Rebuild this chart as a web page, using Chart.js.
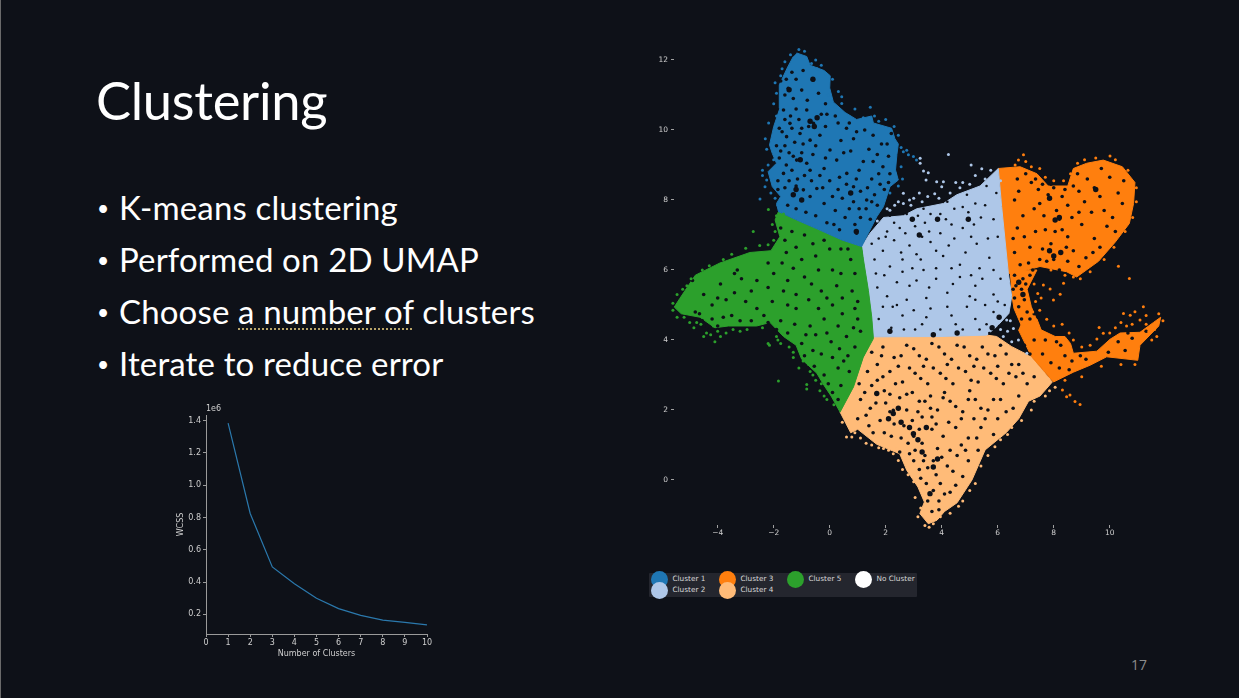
<!DOCTYPE html>
<html>
<head>
<meta charset="utf-8">
<title>Clustering</title>
<script src="https://cdn.jsdelivr.net/npm/chart.js@4"></script>
<style>
  html, body { margin: 0; background: #0e1118; }
  #slide { position: relative; width: 1239px; height: 698px; overflow: hidden; background: #0e1118; }
  #edge { position: absolute; left: 0; top: 0; width: 1px; height: 698px; background: #6a6a6a; }
  canvas { position: absolute; }
  .txt { position: absolute; color: #fff; font-family: Lato, sans-serif; white-space: nowrap; line-height: 1; }
  #title { left: 96px; top: 74px; font-size: 52.5px; font-weight: 400; letter-spacing: -0.3px; }
  .bullet { font-size: 33px; letter-spacing: 0.15px; }
  .mark { font-size: 21px; }
  .spell { text-decoration: underline dotted #b8a468 1.5px; text-underline-offset: 4px; }
  #pageNo { left: 1131px; top: 658px; font-size: 14px; color: #8c8c8c; font-family: "Open Sans", sans-serif; }
  #legendBox { position: absolute; left: 649px; top: 573px; width: 268px; height: 24px; background: #24262e; border-radius: 1px; }
  .lgDot { position: absolute; width: 17px; height: 17px; border-radius: 50%; }
  .lgText { position: absolute; color: #d8d8d8; font: 7.3px "DejaVu Sans", sans-serif; white-space: nowrap; line-height: 1; }
</style>
</head>
<body>
<div id="slide">
  <div id="edge"></div>
  <div id="title" class="txt">Clustering</div>
  <canvas id="elbow"></canvas>
  <canvas id="umap"></canvas>
  <div id="legendBox"></div>
  <div id="legend"></div>
  <div id="pageNo" class="txt">17</div>
</div>
<script>
// slide text
const bulletLines = ["K-means clustering", "Performed on 2D UMAP", 'Choose <span class="spell">a number of</span> clusters', "Iterate to reduce error"];

// elbow curve
const clusterCounts = [1, 2, 3, 4, 5, 6, 7, 8, 9, 10];
const wcss = [1384000, 825000, 494000, 390000, 300000, 235000, 193000, 164000, 150000, 135000];
const wcssTicks = [200000, 400000, 600000, 800000, 1000000, 1200000, 1400000];

// legend
const legendNames = ["Cluster 1", "Cluster 2", "Cluster 3", "Cluster 4", "Cluster 5", "No Cluster"];
const legendColors = ["#1f77b4", "#aec7e8", "#ff7f0e", "#ffbb78", "#2ca02c", "#ffffff"];

// UMAP ticks
const umapXTicks = [-4, -2, 0, 2, 4, 6, 8, 10];
const umapYTicks = [0, 2, 4, 6, 8, 10, 12];

// The dense clouds can't be read point by point, so each cluster is its outline
// plus stray dots outside it and the gaps seen inside it.
const blueOutline = [[-1.18,12.2],[-0.82,12.1],[-0.7,11.85],[-0.2,11.7],[0.02,11.55],[0.0,11.2],[0.13,10.8],[0.55,10.5],[0.96,10.3],[1.5,10.4],[1.56,10.2],[2.21,10.05],[2.33,9.75],[2.45,9.6],[2.4,9.3],[2.35,8.86],[2.45,8.57],[2.15,8.38],[1.92,7.81],[1.68,7.52],[1.38,7.05],[1.14,6.67],[0.43,6.86],[-0.35,7.14],[-1.18,7.43],[-1.83,7.67],[-1.9,7.9],[-1.75,8.1],[-2.05,8.38],[-2.2,8.81],[-1.9,9.05],[-2.05,9.33],[-2.15,9.57],[-2.0,10.1],[-1.78,10.62],[-1.8,11.29],[-1.5,11.8],[-1.3,12.1]];
const greenOutline = [[-1.83,7.67],[-1.95,7.43],[-1.78,6.95],[-2.1,6.55],[-2.85,6.5],[-3.92,6.2],[-4.8,5.85],[-5.35,5.19],[-5.55,4.94],[-5.3,4.75],[-4.63,4.65],[-4.1,4.35],[-3.62,4.4],[-2.61,4.4],[-2.13,4.5],[-1.65,4.1],[-1.2,3.85],[-1.0,3.45],[-0.46,3.05],[-0.2,2.7],[0.05,2.4],[0.37,1.94],[0.85,2.66],[1.2,3.51],[1.56,4.04],[1.5,4.66],[1.38,5.42],[1.2,6.32],[1.14,6.67],[0.43,6.86],[-0.35,7.14],[-1.18,7.43]];
const lightBlueOutline = [[1.14,6.67],[1.44,7.05],[1.92,7.5],[2.63,7.55],[3.11,7.75],[4.06,7.9],[4.54,8.15],[5.37,8.4],[6.02,8.9],[6.14,7.81],[6.26,6.86],[6.38,5.9],[6.5,5.24],[6.4,4.76],[5.96,4.38],[5.61,4.14],[3.94,4.1],[1.56,4.09],[1.5,4.66],[1.38,5.42],[1.2,6.32]];
const orangeTopOutline = [[6.02,8.9],[6.8,8.95],[7.4,8.75],[7.8,8.4],[8.5,8.4],[8.7,8.9],[9.18,9.05],[9.77,9.14],[10.45,8.95],[10.9,8.5],[10.85,7.9],[10.7,7.33],[10.2,6.8],[9.6,6.25],[8.82,5.8],[8.46,5.95],[7.51,6.1],[6.8,5.95],[6.38,5.9],[6.26,6.86],[6.14,7.81]];
const orangeMidOutline = [[6.42,5.98],[7.4,6.0],[7.05,5.45],[7.2,4.95],[7.4,4.55],[6.85,4.4],[6.58,4.9],[6.5,5.3]];
const orangeArmOutline = [[6.9,4.6],[7.4,4.6],[7.55,4.29],[8.05,4.1],[8.4,4.1],[8.6,3.9],[8.7,3.62],[9.54,3.68],[10.01,4.02],[10.37,4.2],[11.08,4.22],[11.56,4.5],[11.82,4.65],[11.75,4.4],[11.08,3.85],[11.0,3.42],[9.89,3.52],[9.3,3.28],[8.7,3.08],[7.99,2.8],[7.21,3.52],[6.74,4.29]];
const peachOutline = [[1.56,4.09],[3.94,4.1],[5.61,4.14],[5.96,4.1],[6.5,3.81],[7.21,3.52],[7.95,2.8],[7.51,2.4],[7.1,2.25],[6.75,1.75],[6.3,1.35],[5.55,0.86],[5.08,0],[4.55,-0.65],[4.1,-0.9],[3.83,-1.15],[3.52,-1.25],[3.22,-0.96],[3.38,-0.63],[3.15,-0.2],[2.75,0.28],[2.5,0.75],[1.68,1.02],[1.0,1.45],[0.75,1.35],[0.37,1.94],[0.85,2.66],[1.2,3.51]];

const blueDots = [[-2.49,8.03],[0.31,11.1],[0.43,10.95],[0.43,10.76],[0.9,10.6],[1.45,10.65],[2.0,10.3],[2.63,9.38],[2.81,9.29],[2.99,9.24],[3.1,9.14],[2.75,9.42],[-2.25,8.57],[-2.31,8.38],[-2.4,8.7],[-2.1,8.2],[-2.3,9.75],[-2.18,10.2],[-2.0,10.75],[-1.95,11.35],[-1.7,11.75],[-0.3,11.85],[-0.5,12.0],[-1.1,12.3],[-0.9,12.25],[2.55,8.95],[2.6,8.6],[2.45,8.4],[2.15,8.2],
  [-1.4,12.15],[-1.6,11.95],[-0.15,11.6],[0.1,11.45],[-0.05,11.0],[0.2,10.65],[0.7,10.38],[1.2,10.35],[1.6,10.4],[1.75,10.25],[2.3,10.1],[2.45,9.85],[2.55,9.5],[2.25,9.05],[2.35,8.75],[1.95,8.1],[1.75,7.7],[-2.25,9.45],[-2.2,9.0],[-2.0,9.15],[-2.4,8.85],[-2.0,8.6],[-1.95,8.05],[-1.85,7.85],[-1.9,10.4],[-1.9,11.05],[-1.75,11.55],[-0.65,11.9],[-0.45,11.75]];
const greenDots = [[-4.1,3.95],[-4.4,4.2],[-4.6,4.45],[-3.7,4.2],[-3.2,4.25],[-2.2,3.9],[-2.15,3.85],[-1.9,4.1],[-1.85,4.0],[-1.83,2.83],[-0.82,2.73],[-0.82,2.6],[-0.2,2.4],[-2.19,7.73],[-2.73,7.1],[-1.3,3.5],[-1.1,3.2],[-0.7,3.1],[-0.5,2.85],[-0.3,2.75],[-3.0,6.62],[-2.5,6.7],[-2.2,6.72],[-3.5,6.45],[-4.3,6.12],[-5.1,5.55],[-5.45,5.3],[-5.0,4.5],[-4.5,4.1],
  [-4.25,4.15],[-4.0,4.25],[-4.75,4.5],[-4.85,4.35],[-4.15,4.4],[-3.9,4.1],[-3.45,4.3],[-2.95,4.3],[-2.4,4.35],[-1.75,3.9],[-1.45,3.8],[-1.3,3.65],[-0.95,3.4],[-0.75,3.3],[-0.6,3.0],[-0.35,2.55],[-0.1,2.3],[0.15,2.15],[-2.0,6.85],[-1.95,7.1],[-2.05,7.3],[-3.8,6.3],[-4.55,6.0],[-4.95,5.75],[-5.25,5.45],[-5.6,5.05],[-5.6,4.85],[-5.45,4.65],[-5.2,4.65],[-1.9,7.55],[-1.65,7.6]];
const lightBlueDots = [[3.23,9.19],[3.23,9.05],[3.35,8.83],[3.52,8.78],[3.44,8.57],[3.82,8.52],[4.06,8.52],[4.0,8.38],[4.24,9.3],[5.05,9.0],[5.43,8.89],[2.63,8.19],[2.45,7.95],[2.32,7.85],[2.63,7.9],[2.15,7.71],[3.0,8.05],[3.5,8.1],[3.75,8.18],[5.2,8.7],[5.75,8.85],[6.32,4.57],[6.56,4.33],[6.2,4.1],[6.5,3.95],[6.74,4.0],[7.04,3.62],
  [1.7,7.4],[2.05,7.75],[2.9,7.85],[3.3,7.95],[3.9,8.05],[4.3,8.2],[4.65,8.35],[5.0,8.45],[5.55,8.6],[5.9,8.7],[6.1,8.55],[3.2,8.2],[2.85,8.0],[4.5,8.5],[4.75,8.5],[6.25,4.7],[6.45,4.55],[6.1,4.3],[6.35,4.25]];
const orangeDots = [[10.31,6.11],[10.7,5.76],[6.92,9.29],[6.74,9.14],[6.62,9.0],[10.01,9.26],[8.35,5.62],[8.23,5.31],[7.99,5.14],[7.87,5.46],[7.43,5.33],[7.63,5.57],[7.75,4.59],[9.62,4.36],[10.49,4.76],[10.73,4.71],[11.2,4.95],[10.9,4.81],[11.08,4.57],[11.68,4.1],[11.5,4.0],[8.58,2.43],[8.46,2.38],[8.76,2.24],[8.94,2.16],[8.31,2.57],[9.77,4.19],[9.54,4.03],[10.0,4.2],[10.2,4.35],
  [7.3,5.6],[7.35,5.1],[7.25,4.8],[7.5,4.85],[7.55,5.2],[8.0,4.4],[8.3,4.45],[8.55,4.2],[8.7,4.0],[9.0,3.8],[9.3,3.85],[9.9,3.75],[10.4,4.5],[10.8,4.45],[11.3,4.7],[11.75,4.75],[11.9,4.55],[9.0,2.95],[8.4,2.85],[9.7,3.25],[10.4,3.3],[10.9,3.3],
  [7.0,9.1],[7.2,8.95],[7.5,8.9],[7.7,8.65],[8.0,8.55],[8.35,8.55],[8.6,8.75],[8.85,9.05],[9.1,9.15],[9.5,9.2],[10.2,9.15],[10.65,8.85],[10.95,8.35],[10.95,7.95],[10.82,7.5],[10.55,7.1],[10.15,6.65],[9.8,6.3],[9.3,5.95],[8.95,5.75],[8.7,5.8],[8.5,6.0],[8.4,5.85],[7.9,6.0],[11.3,4.45],[11.4,4.25],[11.6,4.3],[10.2,4.05],[10.6,4.4]];
const peachDots = [[0.6,1.23],[0.79,1.23],[1.92,0.9],[2.27,0.75],[2.69,0.56],[2.45,0.56],[2.4,0.9],[1.3,1.05],[1.1,1.2],[0.45,1.65],[2.95,0.1],[3.0,-0.05],[3.05,-0.5],[3.15,-1.05],[3.4,-1.3],[3.7,-1.25],[4.3,-0.95],[4.75,-0.6],[5.2,-0.1],[5.65,0.7],[6.1,1.15],[6.5,1.5],[7.2,2.0],[7.7,2.4],[8.05,2.65],
  [1.5,1.0],[1.75,0.92],[2.1,0.85],[2.6,0.3],[2.8,0.15],[3.25,-0.8],[3.55,-1.35],[3.95,-1.05],[4.6,-0.75],[5.0,-0.3],[5.4,0.4],[5.9,0.95],[6.35,1.3],[6.85,1.7],[7.3,2.25],[7.85,2.55],[0.9,1.35]];

const blueGaps = [[-1.48,11.19],[-1.0,11.14],[-0.58,11.43],[-1.65,10.57],[-0.58,10.19],[-0.82,10.57],[-1.54,9.81],[-1.18,9.14],[-0.82,9.05],[-0.46,8.33],[-1.3,8.14],[-1.65,8.76],[-0.94,8.29],[0.73,8.19],[0.96,7.05],[0.85,8.38],[1.2,9.1],[0.96,9.95],[0.25,9.14],[0.61,8.76],[1.32,8.0],[0.01,9.43],[-1.42,10.19],[-0.7,9.71],[-1.06,9.9],
  [-1.75,11.4],[-1.35,11.65],[-0.95,11.7],[-0.4,11.05],[-0.15,10.75],[-0.3,10.45],[-0.75,10.1],[-1.2,10.6],[-1.8,10.05],[-1.9,9.55],[-1.45,9.35],[-1.0,9.35],[-0.6,9.3],[-1.8,9.2],[-1.6,8.35],[-1.15,8.6],[-0.65,8.55],[-0.7,8.1],[-0.2,7.9],[0.2,7.7],[0.55,7.5],[0.9,7.3],[1.05,7.75],[1.45,7.45],[1.7,7.85],[1.95,8.3],[1.5,8.6],[1.05,8.85],[1.7,9.3],[2.05,9.6],[1.55,9.85],[1.25,10.0],[0.6,10.05],[0.4,9.7],[-0.2,8.9],[0.3,8.3],[-1.5,7.85],[-0.85,7.65],[-0.1,7.35],[0.35,7.15],
  [-1.3,10.9],[-1.6,11.0],[-1.1,10.3],[-1.75,9.4],[-1.25,9.65],[-0.9,8.7],[-0.35,8.7],[0.0,8.55],[0.45,8.05],[1.1,8.25],[1.75,8.75],[2.15,8.75],[2.1,9.25],[1.4,9.45],[0.75,9.4],[0.3,10.2],[0.7,10.2],[-0.15,10.1],[-1.55,9.0],[-1.85,8.55],[-1.85,8.3],[-1.45,8.55],[1.1,7.5],[0.7,7.75],
  [-1.2,11.45],[-1.55,11.45],[-0.8,10.85],[-1.4,10.4],[-1.0,10.05],[-1.6,10.3],[-1.35,10.05],[-1.7,9.95],[-0.35,9.85],[-0.95,9.6],[-1.6,9.55],[-1.3,9.25],[-0.5,9.55],[-0.15,9.2],[-0.7,8.85],[-1.35,8.85],[-1.2,8.4],[-0.25,8.35],[0.1,8.1],[0.6,8.45],[1.35,8.35],[1.6,8.15],[1.8,8.45],[2.1,8.5],[1.9,8.95],[1.55,9.1],[1.85,9.6],[2.2,9.9],[0.85,9.75],[0.5,9.35],[0.2,10.4],[-0.1,10.45],[0.95,8.6],[1.3,7.75],[0.85,7.95],[0.15,7.3],[-0.5,7.55],[-1.2,7.75],[1.5,7.95],[0.35,8.65]];
const blueBigGaps = [[-0.55,10.1],[-0.7,10.25],[-1.3,8.15],[-1.05,9.15],[0.95,7.1],[-1.45,11.15],[-0.6,11.45],[0.75,8.2],[-1.2,8.3],[-0.45,10.35],[-1.0,8.0]];
const greenGaps = [[-4.9,5.7],[-4.5,5.3],[-3.9,5.6],[-3.0,5.1],[-3.5,4.7],[-4.5,4.4],[-4.3,4.3],[-4.0,4.4],[-2.6,5.7],[-2.2,6.2],[-1.7,6.2],[-1.0,6.3],[-0.5,6.4],[0.4,6.6],[-0.9,5.8],[-0.3,5.4],[0.1,5.0],[0.8,5.4],[0.9,4.9],[-0.7,4.4],[-0.2,4.6],[0.3,4.4],[0.5,3.4],[0.3,3.2],[-0.2,3.0],[0.1,2.5],[0.4,2.7],[-0.6,3.7],[0.6,4.1],[-1.2,4.9],[1.0,4.6],[-1.5,5.0],[-2.2,4.5],[-1.9,4.3],[-1.5,4.2],[-1.0,3.9],[0.9,5.9],[0.4,5.9],[-0.4,6.0],[-3.3,6.0],[-3.4,5.9],[-2.2,5.5],[-1.5,5.7],[0.1,6.0],[-1.6,6.85],[-1.75,7.2],[-1.55,6.5],[-0.9,7.0],[-0.2,6.85],[-4.2,5.0],[-3.4,5.35],[-2.6,4.9],[-1.2,5.3],[0.45,5.2],[-0.4,4.9],[0.9,3.8],[-0.3,3.6],[0.05,3.95],[-0.9,3.55],[-4.65,4.75],
  [-4.8,4.8],[-4.55,4.55],[-4.2,4.6],[-3.8,4.65],[-3.2,4.55],[-2.8,4.55],[-2.35,4.7],[-1.75,4.55],[-1.25,4.45],[-0.85,4.15],[-0.5,4.15],[-0.1,4.2],[0.35,3.75],[0.65,3.55],[0.1,3.5],[-0.55,3.25],[-0.05,2.75],[0.3,2.3],[0.7,3.1],[1.1,4.25],[0.85,4.35],[0.45,4.75],[-0.1,5.2],[-0.75,5.15],[-1.65,5.4],[-2.05,5.1],[-2.8,5.4],[-3.7,5.15],[-4.0,5.2],[-3.15,5.75],[-2.0,5.9],[-1.3,6.05],[-0.65,5.6],[0.25,5.55],[0.75,6.3],[1.0,5.1],[0.65,6.6],[0.0,6.6],[-0.6,6.75],[-1.2,6.65],[-1.35,7.1]];
const lightBlueGaps = [[1.6,6.3],[1.9,6.55],[2.15,6.1],[2.55,6.5],[2.85,6.7],[3.25,6.3],[3.6,6.8],[4.05,6.4],[4.45,6.9],[4.85,6.5],[5.25,6.75],[5.7,6.35],[6.0,6.95],[1.7,5.5],[2.05,5.25],[2.4,5.65],[2.75,5.15],[3.1,5.7],[3.45,5.2],[3.8,5.75],[4.2,5.35],[4.65,5.8],[5.0,5.25],[5.45,5.75],[5.85,5.3],[6.1,5.75],[1.75,4.6],[2.2,4.35],[2.6,4.7],[3.05,4.3],[3.45,4.65],[3.95,4.3],[4.35,4.7],[4.75,4.3],[5.2,4.6],[5.6,4.45],[5.85,4.8],[6.25,5.0],[2.3,7.35],[2.7,7.05],[3.15,7.55],[3.55,7.1],[3.95,7.6],[4.35,7.3],[4.75,7.8],[5.15,7.3],[5.55,7.85],[5.85,7.45],[2.05,7.1],[3.35,7.75],[4.2,7.95],[4.9,8.15],[5.6,8.4],[2.95,6.05],[3.8,6.05],[4.65,6.15],[5.35,6.05],[1.5,6.75],[2.25,4.95],[3.6,4.9],[4.9,4.95],[5.55,5.0],[6.05,4.4],[5.7,4.2],
  [1.65,5.9],[2.3,6.85],[3.05,7.25],[3.3,6.95],[3.95,7.05],[4.75,7.2],[5.4,7.5],[5.65,6.9],[2.85,5.55],[3.35,6.0],[4.35,6.05],[5.05,5.85],[2.65,4.3],[4.2,4.95],[5.2,5.15],[1.9,4.95],[3.0,4.85],[1.75,6.9],[2.5,7.2],[2.15,7.55],[2.75,7.6],[3.6,7.6],[4.45,7.75],[5.2,7.9],[5.95,8.2],
  [2.4,5.0],[3.3,4.45],[4.5,4.45],[5.35,4.3],[6.0,5.1],[5.2,5.55],[4.4,5.6],[3.55,5.5],[2.6,5.95],[1.95,5.85],[3.1,6.45],[4.25,6.7],[5.05,6.95],[5.85,6.0],[4.95,7.65],[4.15,7.45],[3.4,7.35],[2.6,6.3],[3.8,6.55],[2.0,6.95]];
const lightBlueBigGaps = [[2.95,7.45],[3.2,7.0],[3.85,7.45],[4.95,7.45],[6.05,4.65],[5.8,4.35],[6.2,4.35],[2.15,4.25],[3.7,4.15],[4.55,4.2]];
const orangeGaps = [[7.5,7.9],[7.2,8.5],[7.8,8.15],[6.7,8.6],[7.0,8.75],[8.0,8.35],[8.3,8.1],[8.1,7.7],[8.5,7.85],[8.7,8.4],[8.9,8.25],[9.2,8.6],[9.45,8.35],[9.65,8.1],[10.1,7.5],[10.5,8.55],[10.45,7.9],[9.9,7.25],[9.45,6.9],[9.0,7.3],[8.5,6.95],[8.2,7.45],[7.9,6.75],[7.6,6.6],[7.35,7.1],[6.95,6.95],[6.9,7.55],[6.6,8.0],[6.7,7.2],[8.0,6.3],[8.2,6.0],[7.75,6.25],[7.5,6.3],[8.5,6.25],[8.9,6.1],[9.4,6.5],[7.1,6.2],[6.8,6.15],[6.6,6.5],[9.7,8.9],[8.85,8.75],[7.35,8.6],[7.6,8.45],
  [6.95,3.85],[7.3,4.0],[7.7,4.0],[8.1,3.95],[8.4,3.55],[7.9,3.35],[8.65,3.4],[9.15,3.45],[9.75,3.95],[10.3,3.95],[10.8,4.05],[11.3,4.25],[10.55,3.7],
  [6.6,5.85],[6.9,5.75],[7.15,5.85],[6.65,5.55],[6.85,5.45],[6.6,5.2],[6.95,5.15],[6.75,4.95],[7.05,4.8],[6.85,4.6],[7.15,4.6],[7.0,5.6],[7.3,4.75],[7.25,6.0],[6.55,5.45],
  [7.45,8.3],[7.9,8.45],[7.65,7.55],[8.4,8.3],[8.3,7.15],[8.05,7.1],[8.65,7.5],[9.35,7.65],[9.1,7.95],[8.9,7.65],[9.8,7.7],[10.3,8.2],[10.0,8.65],[10.2,7.1],[9.65,6.65],[9.15,6.35],[8.7,6.55],[7.7,7.15],[7.15,6.65],[7.3,7.75],[6.55,6.9],[6.75,8.25],[7.85,5.95],[8.45,6.65],
  [7.15,3.6],[7.6,3.6],[8.25,3.85],[8.95,3.55],[9.95,3.65],[10.65,4.2],[8.2,3.2],[8.55,3.15]];
const orangeBigGaps = [[8.05,7.43],[8.2,7.5],[8.0,6.4],[7.85,6.55],[8.25,6.5],[6.75,5.65],[7.85,8.05],[6.9,5.3],[9.5,8.3]];
const peachGaps = [[2.27,1.99],[2.0,2.2],[2.5,2.35],[2.75,2.0],[2.3,1.6],[2.65,1.55],[2.95,1.7],[3.2,1.45],[3.0,1.25],[2.8,1.05],[2.55,1.2],[3.3,1.05],[3.05,0.85],[3.4,0.7],[3.7,0.55],[3.5,0.35],[3.8,0.15],[3.45,-0.1],[3.7,-0.3],[3.5,-0.6],[3.65,-0.9],[4.1,-0.4],[4.5,-0.15],[4.2,0.4],[4.55,0.7],
  [1.5,3.65],[1.9,3.8],[2.3,3.5],[2.75,3.85],[3.2,3.55],[3.65,3.9],[4.1,3.6],[4.55,3.85],[5.0,3.55],[5.45,3.8],[5.9,3.55],[6.3,3.6],[6.75,3.3],[1.35,3.1],[1.7,2.85],[2.15,3.1],[2.6,2.8],[3.05,3.05],[3.5,2.75],[3.95,3.05],[4.4,2.75],[4.85,3.1],[5.3,2.8],[5.75,3.05],[6.2,2.75],[6.65,2.95],[7.05,2.75],[1.1,2.3],[1.45,2.05],[1.8,1.7],[1.4,1.55],[3.4,2.25],[3.85,2.0],[4.3,2.25],[4.75,1.95],[5.2,2.3],[5.65,2.0],[6.1,2.3],[6.55,2.05],[1.0,1.75],[3.65,1.45],[4.05,1.25],[4.5,1.5],[4.95,1.2],[5.4,1.5],[5.85,1.3],[3.85,0.9],[4.95,0.55],[5.3,0.85],[4.75,0.1],[3.2,0.3],[3.15,1.95],[2.5,0.8],[3.6,2.4],[2.2,1.25],
  [1.7,3.3],[2.45,3.25],[3.35,3.25],[4.2,3.3],[5.15,3.25],[6.0,3.25],[2.95,2.5],[1.95,2.55],[4.1,2.5],[5.0,2.55],[3.65,1.8],[5.15,1.75],[6.0,1.75],
  [1.85,3.55],[2.55,3.55],[3.0,3.75],[3.45,3.45],[3.9,3.8],[4.35,3.45],[4.8,3.8],[5.25,3.45],[5.65,3.6],[6.1,3.85],[6.5,3.3],[6.9,3.05],[7.3,2.95],[1.05,2.75],[1.5,2.7],[1.9,2.95],[2.35,2.75],[2.85,3.2],[3.25,2.9],[3.7,3.2],[4.15,2.9],[4.6,3.2],[5.05,2.85],[5.5,3.2],[5.95,2.9],[6.4,3.05],[1.25,2.5],[1.65,2.2],[2.15,2.45],[2.75,2.45],[3.2,2.25],[3.6,2.05],[4.05,2.35],[4.5,2.1],[4.95,2.3],[5.4,2.05],[5.85,2.3],[6.3,1.95],[6.75,2.4],[1.3,1.85],[1.55,1.35],[1.95,1.35],[2.15,1.95],[3.3,1.8],[3.8,1.6],[4.25,1.65],[4.7,1.75],[5.55,1.75],[5.25,1.2],[4.7,1.0],[4.3,0.85],[4.0,0.65],[4.85,0.85],[4.4,0.25],[3.95,-0.1],[4.3,-0.35],[3.9,-0.6],[3.35,0.55],[3.0,0.55],[2.85,0.75],[3.25,0.05],[3.9,-0.85]];
const peachBigGaps = [[2.27,1.9],[2.45,2.05],[2.1,1.75],[2.99,1.32],[3.15,1.15],[2.85,1.5],[3.7,0.37],[3.58,-0.39],[3.85,0.6],[1.68,2.47],[2.55,1.65],[3.3,0.8],[3.45,1.5]];

const polygon = (data, color) => ({ data, showLine: true, fill: "shape", backgroundColor: color, borderColor: color, borderWidth: 1, pointRadius: 0, order: 3, clip: false });
const dots = (data, color, r, order) => ({ data, showLine: false, backgroundColor: color, borderWidth: 0, pointRadius: r, order, clip: false });
const xy = (pairs) => pairs.map((p) => ({ x: p[0], y: p[1] }));

const slide = document.getElementById("slide");
const bg = "#0e1118";
const tickColor = "#cfcfcf";
const tickFont = { family: "'DejaVu Sans'", size: 7.5 };

bulletLines.forEach((line, i) => {
  const top = 191 + i * 52;
  slide.insertAdjacentHTML("beforeend", `<div class="txt mark" style="left:97px;top:${top + 6}px">•</div><div class="txt bullet" style="left:119px;top:${top}px">${line}</div>`);
});

const legend = document.getElementById("legend");
legendNames.forEach((name, i) => {
  const col = i < 4 ? Math.floor(i / 2) : i - 2;
  const row = i < 4 ? i % 2 : 0;
  const x = 659 + col * 68, y = 579 + row * 11;
  legend.insertAdjacentHTML("beforeend", `<div class="lgDot" style="left:${x - 8.5}px;top:${y - 8.5}px;background:${legendColors[i]}"></div><div class="lgText" style="left:${x + 13.5}px;top:${y - 4}px">${name}</div>`);
});

// small tag above the y axis, the offset text matplotlib puts there
const offsetText = {
  id: "offsetText",
  afterDraw(chart) {
    const { ctx, chartArea } = chart;
    ctx.save();
    ctx.fillStyle = tickColor;
    ctx.font = "8px 'DejaVu Sans'";
    ctx.textBaseline = "bottom";
    ctx.fillText("1e6", chartArea.left, chartArea.top - 2);
    ctx.restore();
  },
};

function place(id, left, top, width, height) {
  const c = document.getElementById(id);
  c.width = width; c.height = height;
  c.style.left = left + "px"; c.style.top = top + "px";
  c.style.width = width + "px"; c.style.height = height + "px";
  return c;
}

new Chart(place("elbow", 176, 400, 264, 259), {
  type: "scatter",
  data: {
    datasets: [{
      data: clusterCounts.map((n, i) => ({ x: n, y: wcss[i] })),
      showLine: true, borderColor: "#2b79ad", borderWidth: 1.2, pointRadius: 0, tension: 0,
    }],
  },
  options: {
    responsive: false, animation: false, events: [], devicePixelRatio: 1,
    layout: { autoPadding: false, padding: { top: 15, right: 13 } },
    plugins: { legend: { display: false }, tooltip: { enabled: false } },
    scales: {
      x: {
        type: "linear", min: 0, max: 10,
        ticks: { stepSize: 1, color: tickColor, font: { family: tickFont.family, size: 8 }, padding: 1, maxRotation: 0 },
        grid: { drawOnChartArea: false, drawTicks: true, tickColor: "#9a9a9a", tickLength: 3 },
        border: { display: true, color: "#9a9a9a", width: 1 },
        title: { display: true, text: "Number of Clusters", color: tickColor, font: { family: tickFont.family, size: 8 }, padding: { top: 2, bottom: 0 } },
        afterFit(s) { s.height = 25; s.paddingLeft = 0; s.paddingRight = 0; },
      },
      y: {
        type: "linear", min: 78000, max: 1435000,
        afterBuildTicks(s) { s.ticks = wcssTicks.map((value) => ({ value })); },
        ticks: { color: tickColor, font: { family: tickFont.family, size: 8 }, padding: 2, callback: (v) => (v / 1e6).toFixed(1) },
        grid: { drawOnChartArea: false, drawTicks: true, tickColor: "#9a9a9a", tickLength: 3 },
        border: { display: true, color: "#9a9a9a", width: 1 },
        title: { display: true, text: "WCSS", color: tickColor, font: { family: tickFont.family, size: 8 }, padding: { top: 0, bottom: 0 } },
        afterFit(s) { s.width = 30; s.paddingTop = 0; s.paddingBottom = 0; },
      },
    },
  },
  plugins: [offsetText],
});

new Chart(place("umap", 640, 39, 535, 506), {
  type: "scatter",
  data: {
    datasets: [
      polygon(xy(blueOutline), legendColors[0]),
      polygon(xy(greenOutline), legendColors[4]),
      polygon(xy(lightBlueOutline), legendColors[1]),
      polygon(xy(orangeTopOutline), legendColors[2]),
      polygon(xy(orangeMidOutline), legendColors[2]),
      polygon(xy(orangeArmOutline), legendColors[2]),
      polygon(xy(peachOutline), legendColors[3]),
      dots(xy([...blueGaps, ...greenGaps, ...orangeGaps, ...peachGaps]), bg, 1.8, 2),
      dots(xy(lightBlueGaps), bg, 1.3, 2),
      dots(xy([...blueBigGaps, ...lightBlueBigGaps, ...orangeBigGaps, ...peachBigGaps]), bg, 2.7, 2),
      dots(xy(blueDots), legendColors[0], 1.5, 1),
      dots(xy(greenDots), legendColors[4], 1.5, 1),
      dots(xy(lightBlueDots), legendColors[1], 1.5, 1),
      dots(xy(orangeDots), legendColors[2], 1.5, 1),
      dots(xy(peachDots), legendColors[3], 1.5, 1),
    ],
  },
  options: {
    responsive: false, animation: false, events: [], devicePixelRatio: 1,
    layout: { autoPadding: false },
    plugins: { legend: { display: false }, tooltip: { enabled: false } },
    scales: {
      x: {
        type: "linear", min: -5.56, max: 12.33,
        afterBuildTicks(s) { s.ticks = umapXTicks.map((value) => ({ value })); },
        ticks: { color: tickColor, font: tickFont, padding: 1, maxRotation: 0, callback: (v) => String(v).replace("-", "\u2212") },
        grid: { drawOnChartArea: false, drawTicks: true, tickColor: "#a0a0a0", tickLength: 3 },
        border: { display: false },
        afterFit(s) { s.height = 20; s.paddingLeft = 0; s.paddingRight = 0; },
      },
      y: {
        type: "linear", min: -1.286, max: 12.6,
        afterBuildTicks(s) { s.ticks = umapYTicks.map((value) => ({ value })); },
        ticks: { color: tickColor, font: tickFont, padding: 3 },
        grid: { drawOnChartArea: false, drawTicks: true, tickColor: "#a0a0a0", tickLength: 3 },
        border: { display: false },
        afterFit(s) { s.width = 34; s.paddingTop = 0; s.paddingBottom = 0; },
      },
    },
  },
});
</script>
</body>
</html>
